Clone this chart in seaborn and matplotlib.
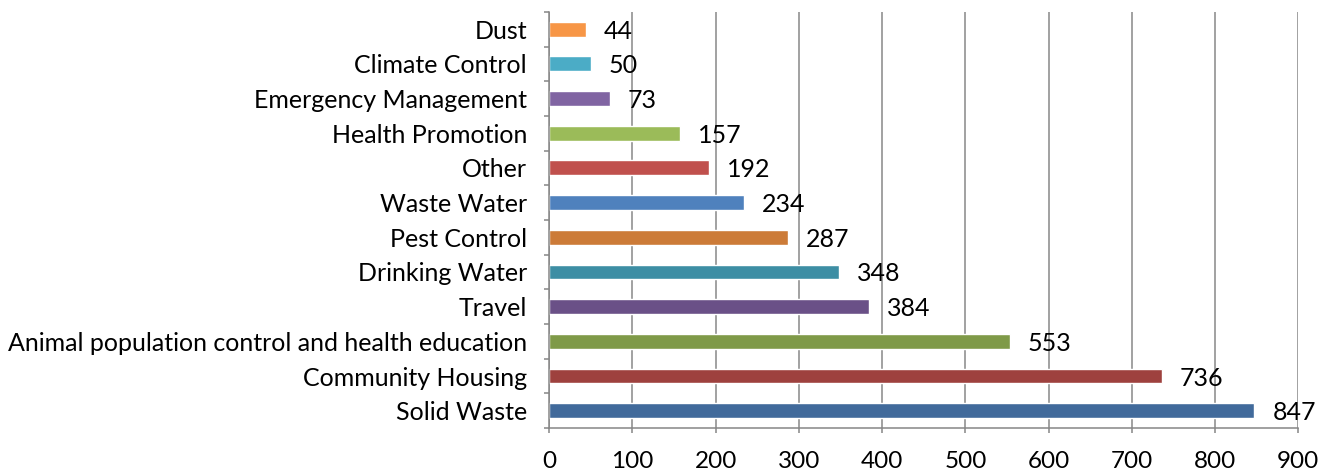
import matplotlib
matplotlib.use("Agg")
import matplotlib.pyplot as plt
import seaborn as sns
import pandas as pd

# Service categories, listed top to bottom
categories = [
    "Dust", "Climate Control", "Emergency Management", "Health Promotion",
    "Other", "Waste Water", "Pest Control", "Drinking Water", "Travel",
    "Animal population control and health education", "Community Housing",
    "Solid Waste",
]
counts = [44, 50, 73, 157, 192, 234, 287, 348, 384, 553, 736, 847]
bar_colors = [
    "#F79646", "#4BACC6", "#8064A2", "#9BBB59", "#C0504D", "#4F81BD",
    "#CC7B38", "#3D8EA4", "#6A5087", "#7F9A48", "#9E413E", "#416A9B",
]
x_ticks = [0, 100, 200, 300, 400, 500, 600, 700, 800, 900]

sns.set_theme(style="white")
plt.rcParams["font.family"] = ["Lato", "DejaVu Sans"]
FS = 18

df = pd.DataFrame({"category": categories, "count": counts})

fig = plt.figure(figsize=(13.33, 4.74), dpi=100)
ax = fig.add_axes([0.412, 0.097, 0.562, 0.878])

sns.barplot(data=df, x="count", y="category", hue="category",
            palette=bar_colors, order=categories, hue_order=categories,
            width=0.43, legend=False, ax=ax, saturation=1)

ax.set_xlim(0, 900)
ax.set_ylim(len(categories) - 0.5, -0.5)
ax.set_xticks(x_ticks)
ax.set_xticklabels([str(t) for t in x_ticks], fontsize=17.5, color="black")
ax.set_xlabel("")
ax.set_ylabel("")

# Category labels at bar centres, tick marks at category boundaries
ax.set_yticks(range(len(categories)))
ax.set_yticklabels(categories, fontsize=FS, color="black")
ax.set_yticks([i - 0.5 for i in range(len(categories) + 1)], minor=True)
ax.tick_params(axis="y", which="major", length=0, pad=16)
ax.tick_params(axis="y", which="minor", length=3.6, width=1.1, color="#868686",
               direction="out", left=True)
ax.tick_params(axis="x", which="major", length=3.6, width=1.1, color="#868686",
               direction="out", bottom=True, pad=13)

ax.grid(axis="x", color="#878787", linewidth=1.1)
ax.set_axisbelow(True)
for side in ("top", "right"):
    ax.spines[side].set_visible(False)
for side in ("left", "bottom"):
    ax.spines[side].set_color("#868686")
    ax.spines[side].set_linewidth(1.1)

# Value labels to the right of each bar, sitting a touch below centre
for container in ax.containers:
    labels = ax.bar_label(container, fmt="%d", padding=13, fontsize=FS,
                          color="black")
    for t in labels:
        t.set_verticalalignment("center_baseline")

fig.savefig("out.png", dpi=100)
